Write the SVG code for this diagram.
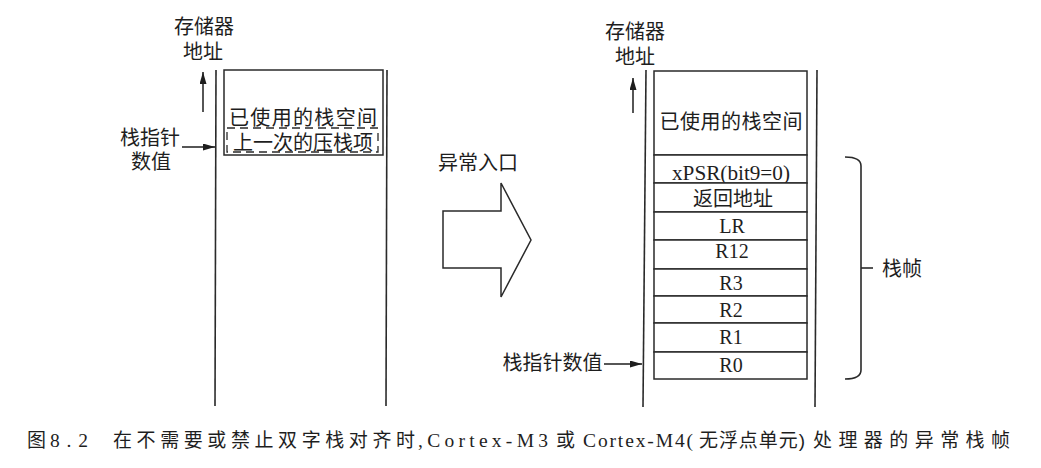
<svg xmlns="http://www.w3.org/2000/svg" width="1041" height="468" viewBox="0 0 1041 468">
<style>
.cjk{font-family:"Liberation Sans","Noto Sans CJK SC",sans-serif;font-size:20px;fill:#1e1e1e}
.lat{font-family:"Liberation Serif","Times New Roman",serif;font-size:20px;fill:#1e1e1e}
.cap{font-family:"Liberation Sans","Noto Sans CJK SC",sans-serif;font-size:19px;fill:#1e1e1e}
.capl{font-family:"Liberation Serif",serif;font-size:19.5px;fill:#1e1e1e}
.ln{stroke:#2a2a2a;stroke-width:1.6;fill:none}
.box{stroke:#2a2a2a;stroke-width:1.5;fill:#fff}
.dash{stroke:#2a2a2a;stroke-width:1.3;fill:none;stroke-dasharray:8 5}
.arr{stroke:#1e1e1e;stroke-width:1.5;fill:none}
</style>
<defs>
<marker id="ah" markerUnits="userSpaceOnUse" markerWidth="13" markerHeight="8" refX="12" refY="3.5" orient="auto">
<path d="M0,0 L12,3.5 L0,7 z" fill="#1e1e1e"/>
</marker>
</defs>
<rect width="1041" height="468" fill="#fff"/>

<g id="left-stack">
<line class="ln" x1="216" y1="70" x2="215" y2="406"/>
<line class="ln" x1="387" y1="70" x2="386" y2="406"/>
<rect class="box" x="224" y="70" width="159" height="85"/>
<text class="cjk" x="303" y="125" text-anchor="middle" textLength="148" lengthAdjust="spacing">已使用的栈空间</text>
<rect class="dash" x="227" y="128" width="151" height="24"/>
<text class="cjk" x="303" y="149.5" text-anchor="middle" textLength="140" lengthAdjust="spacing">上一次的压栈项</text>
</g>

<g id="left-labels">
<text class="cjk" x="204" y="34" text-anchor="middle">存储器</text>
<text class="cjk" x="203" y="59" text-anchor="middle">地址</text>
<text class="cjk" x="150" y="145" text-anchor="middle">栈指针</text>
<text class="cjk" x="151" y="169" text-anchor="middle">数值</text>
</g>

<g id="exception-entry">
<polygon points="443,211 501,211 501,183 531,240 501,297 501,268 443,268" fill="#fff" stroke="#2a2a2a" stroke-width="1.5" stroke-linejoin="miter"/>
<text class="cjk" x="478" y="169.5" text-anchor="middle">异常入口</text>
</g>

<g id="right-stack">
<line class="ln" x1="646" y1="70" x2="643" y2="407"/>
<line class="ln" x1="817" y1="70" x2="815" y2="407"/>
<rect class="box" x="654" y="71" width="153" height="84"/>
<text class="cjk" x="731" y="128.5" text-anchor="middle" textLength="143" lengthAdjust="spacing">已使用的栈空间</text>
<g id="row-xpsr"><rect class="box" x="654" y="155" width="153" height="28"/><text class="lat" x="731" y="180" text-anchor="middle" textLength="118" lengthAdjust="spacingAndGlyphs">xPSR(bit9=0)</text></g>
<g id="row-ret"><rect class="box" x="654" y="183" width="153" height="29"/><text class="cjk" x="733" y="206" text-anchor="middle">返回地址</text></g>
<g id="row-lr"><rect class="box" x="654" y="212" width="153" height="28"/><text class="lat" x="732" y="233" text-anchor="middle">LR</text></g>
<g id="row-r12"><rect class="box" x="654" y="240" width="153" height="29"/><text class="lat" x="732" y="258" text-anchor="middle">R12</text></g>
<g id="row-r3"><rect class="box" x="654" y="269" width="153" height="27"/><text class="lat" x="731" y="290" text-anchor="middle">R3</text></g>
<g id="row-r2"><rect class="box" x="654" y="296" width="153" height="27"/><text class="lat" x="731" y="317" text-anchor="middle">R2</text></g>
<g id="row-r1"><rect class="box" x="654" y="323" width="153" height="29"/><text class="lat" x="731" y="343.5" text-anchor="middle">R1</text></g>
<g id="row-r0"><rect class="box" x="654" y="352" width="153" height="27"/><text class="lat" x="731" y="372" text-anchor="middle">R0</text></g>
</g>

<g id="right-labels">
<text class="cjk" x="635" y="38.5" text-anchor="middle">存储器</text>
<text class="cjk" x="635" y="64" text-anchor="middle">地址</text>
<text class="cjk" x="552.5" y="370" text-anchor="middle">栈指针数值</text>
</g>

<g id="stack-frame-brace">
<path class="ln" d="M845,157 Q861,157 861,166 L861,370 Q861,379 845,379"/>
<line class="ln" x1="861" y1="268" x2="873" y2="268"/>
<text class="cjk" x="882" y="275.5">栈帧</text>
</g>

<g id="connectors">
<line class="arr" x1="203" y1="112" x2="203" y2="72" marker-end="url(#ah)"/>
<line class="arr" x1="182" y1="147" x2="215" y2="147" marker-end="url(#ah)"/>
<line class="arr" x1="633" y1="113" x2="633" y2="78" marker-end="url(#ah)"/>
<line class="arr" x1="604" y1="364" x2="642" y2="364" marker-end="url(#ah)"/>
</g>

<g id="caption">
<text class="cap" x="27" y="447">图</text>
<text class="capl" x="50" y="447" textLength="38" lengthAdjust="spacing">8.2</text>
<text class="cap" x="113" y="447" textLength="302" lengthAdjust="spacing">在不需要或禁止双字栈对齐时</text>
<text class="capl" x="418" y="447" textLength="130" lengthAdjust="spacing">,Cortex-M3</text>
<text class="cap" x="556" y="447">或</text>
<text class="capl" x="583" y="447" textLength="110" lengthAdjust="spacing">Cortex-M4(</text>
<text class="cap" x="699" y="447" textLength="106" lengthAdjust="spacing">无浮点单元)</text>
<text class="cap" x="813" y="447" textLength="197" lengthAdjust="spacing">处理器的异常栈帧</text>
</g>
</svg>
